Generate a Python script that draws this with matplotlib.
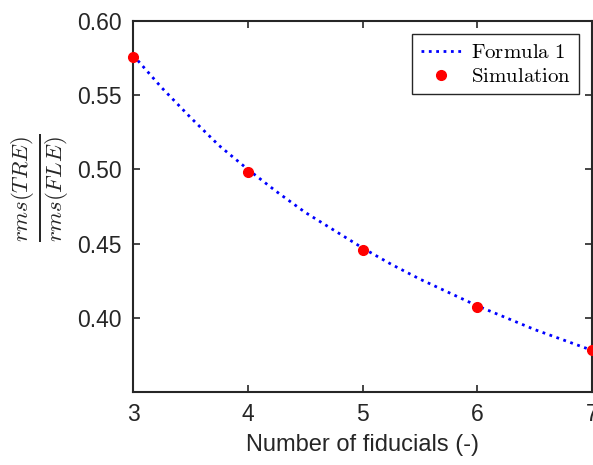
import matplotlib
matplotlib.use("Agg")
import matplotlib.pyplot as plt

plt.rcParams['font.family'] = ['Liberation Sans', 'DejaVu Sans']
plt.rcParams['mathtext.fontset'] = 'cm'

# curve values
formula_x = [3.0, 3.25, 3.5, 3.75, 4.0, 4.25, 4.5, 4.75, 5.0, 5.25, 5.5, 5.75, 6.0, 6.25, 6.5, 6.75, 7.0]
formula_y = [0.577, 0.555, 0.535, 0.516, 0.500, 0.485, 0.471, 0.459, 0.447,
             0.436, 0.426, 0.417, 0.408, 0.400, 0.392, 0.385, 0.378]

sim_x = [3, 4, 5, 6, 7]
sim_y = [0.576, 0.498, 0.446, 0.407, 0.378]

xticks = [3, 4, 5, 6, 7]
yticks = [0.40, 0.45, 0.50, 0.55, 0.60]

fig = plt.figure(figsize=(5.93, 4.65), dpi=100)
ax = fig.add_axes([0.2243, 0.157, 0.7745, 0.798])

ax.plot(formula_x, formula_y, linestyle=':', color='#0000ff', linewidth=2,
        label=r'$\mathrm{Formula\ 1}$', clip_on=False, zorder=2)
ax.plot(sim_x, sim_y, linestyle='none', marker='o', color='#ff0000', markersize=7,
        label=r'$\mathrm{Simulation}$', clip_on=False, zorder=3)

ax.set_xlim(3, 7)
ax.set_ylim(0.35, 0.60)
ax.set_xticks(xticks)
ax.set_yticks(yticks)
ax.set_yticklabels([f'{v:.2f}' for v in yticks])

ax.tick_params(direction='in', length=5, width=1.2, colors='#262626', labelsize=16.5,
               top=True, right=True, pad=8)
for s in ax.spines.values():
    s.set_linewidth(1.5)
    s.set_color('#262626')

ax.set_xlabel('Number of fiducials (-)', fontsize=17, color='#262626', labelpad=6)
ax.set_ylabel(r'$\frac{rms(TRE)}{rms(FLE)}$', fontsize=23.5, color='#262626')
ax.yaxis.set_label_coords(-0.135, 0.55)

leg = ax.legend(loc='upper right', fontsize=15, frameon=True, fancybox=False,
                framealpha=1, edgecolor='#262626', borderpad=0.4, labelspacing=0.25,
                handlelength=2.0, handletextpad=0.4, borderaxespad=0.65)
leg.get_frame().set_linewidth(1.0)

fig.savefig('out.png', dpi=100)
